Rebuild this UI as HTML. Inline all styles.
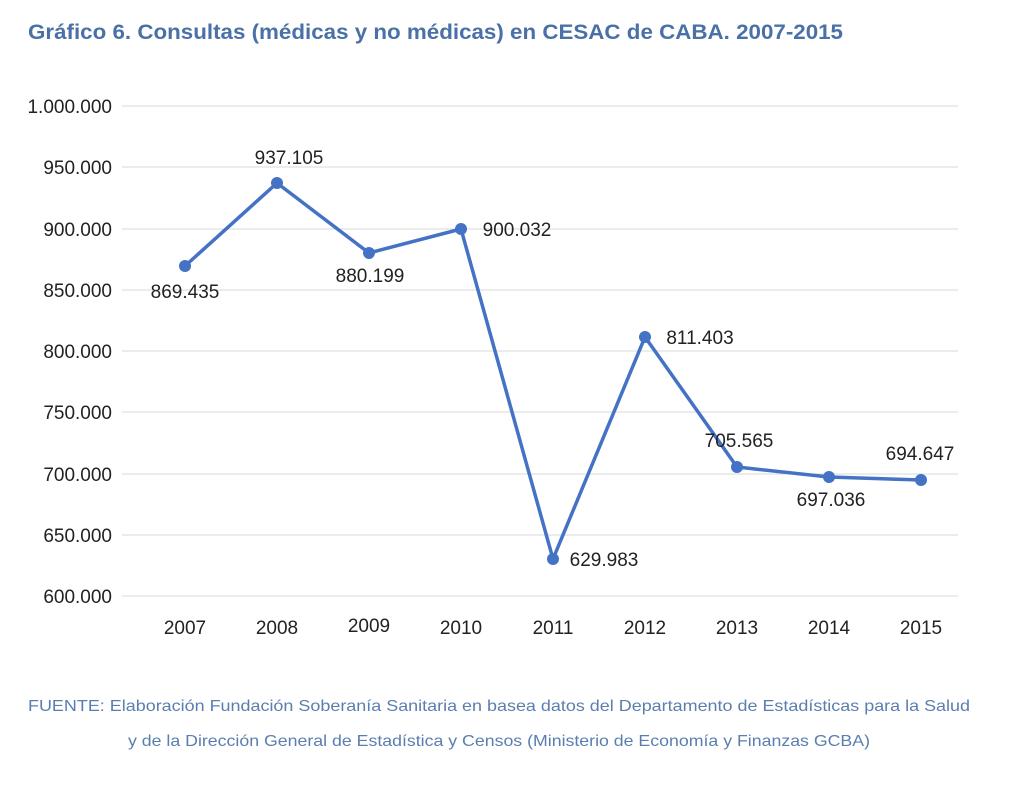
<!DOCTYPE html>
<html><head><meta charset="utf-8"><style>
body{margin:0;background:#fff;width:1024px;height:782px;overflow:hidden}
svg text{font-family:"Liberation Sans",sans-serif}
</style></head><body>
<svg width="1024" height="782" xmlns="http://www.w3.org/2000/svg">
<text x="28" y="39" font-size="21" font-weight="bold" fill="#4a70a8" textLength="815" lengthAdjust="spacingAndGlyphs">Gráfico 6. Consultas (médicas y no médicas) en CESAC de CABA. 2007-2015</text>
<g stroke="#d9d9d9" stroke-width="1">
<line x1="122" x2="958" y1="106" y2="106"/><line x1="122" x2="958" y1="167" y2="167"/>
<line x1="122" x2="958" y1="229" y2="229"/><line x1="122" x2="958" y1="290" y2="290"/>
<line x1="122" x2="958" y1="351" y2="351"/><line x1="122" x2="958" y1="412" y2="412"/>
<line x1="122" x2="958" y1="474" y2="474"/><line x1="122" x2="958" y1="535" y2="535"/>
<line x1="122" x2="958" y1="596" y2="596"/>
</g>
<g font-size="19" fill="#222" text-anchor="end">
<text x="112" y="113">1.000.000</text><text x="112" y="174">950.000</text>
<text x="112" y="236">900.000</text><text x="112" y="297">850.000</text>
<text x="112" y="358">800.000</text><text x="112" y="419">750.000</text>
<text x="112" y="481">700.000</text><text x="112" y="542">650.000</text>
<text x="112" y="603">600.000</text>
</g>
<g font-size="19" fill="#222" text-anchor="middle">
<text x="185" y="634">2007</text><text x="277" y="634">2008</text><text x="369" y="632">2009</text>
<text x="461" y="634">2010</text><text x="553" y="634">2011</text><text x="645" y="634">2012</text>
<text x="737" y="634">2013</text><text x="829" y="634">2014</text><text x="921" y="634">2015</text>
</g>
<polyline fill="none" stroke="#4472c4" stroke-width="3.5" stroke-linejoin="round" points="185,266 277,183 369,253 461,229 553,559 645,337 737,467 829,477 921,480"/>
<g fill="#4472c4">
<circle cx="185" cy="266" r="6"/><circle cx="277" cy="183" r="6"/><circle cx="369" cy="253" r="6"/>
<circle cx="461" cy="229" r="6"/><circle cx="553" cy="559" r="6"/><circle cx="645" cy="337" r="6"/>
<circle cx="737" cy="467" r="6"/><circle cx="829" cy="477" r="6"/><circle cx="921" cy="480" r="6"/>
</g>
<g font-size="19" fill="#222" text-anchor="middle">
<text x="185" y="298">869.435</text><text x="289" y="164">937.105</text><text x="370" y="282">880.199</text>
<text x="517" y="236">900.032</text><text x="604" y="566">629.983</text><text x="700" y="344">811.403</text>
<text x="739" y="447">705.565</text><text x="831" y="506">697.036</text><text x="920" y="460">694.647</text>
</g>
<g font-size="16" fill="#5a7eb0">
<text x="28" y="711" textLength="942" lengthAdjust="spacingAndGlyphs">FUENTE: Elaboración Fundación Soberanía Sanitaria en basea  datos del Departamento de Estadísticas para la Salud</text>
<text x="128" y="746" textLength="742" lengthAdjust="spacingAndGlyphs">y de la Dirección General de Estadística y Censos (Ministerio de Economía y Finanzas GCBA)</text>
</g>
</svg>
</body></html>
